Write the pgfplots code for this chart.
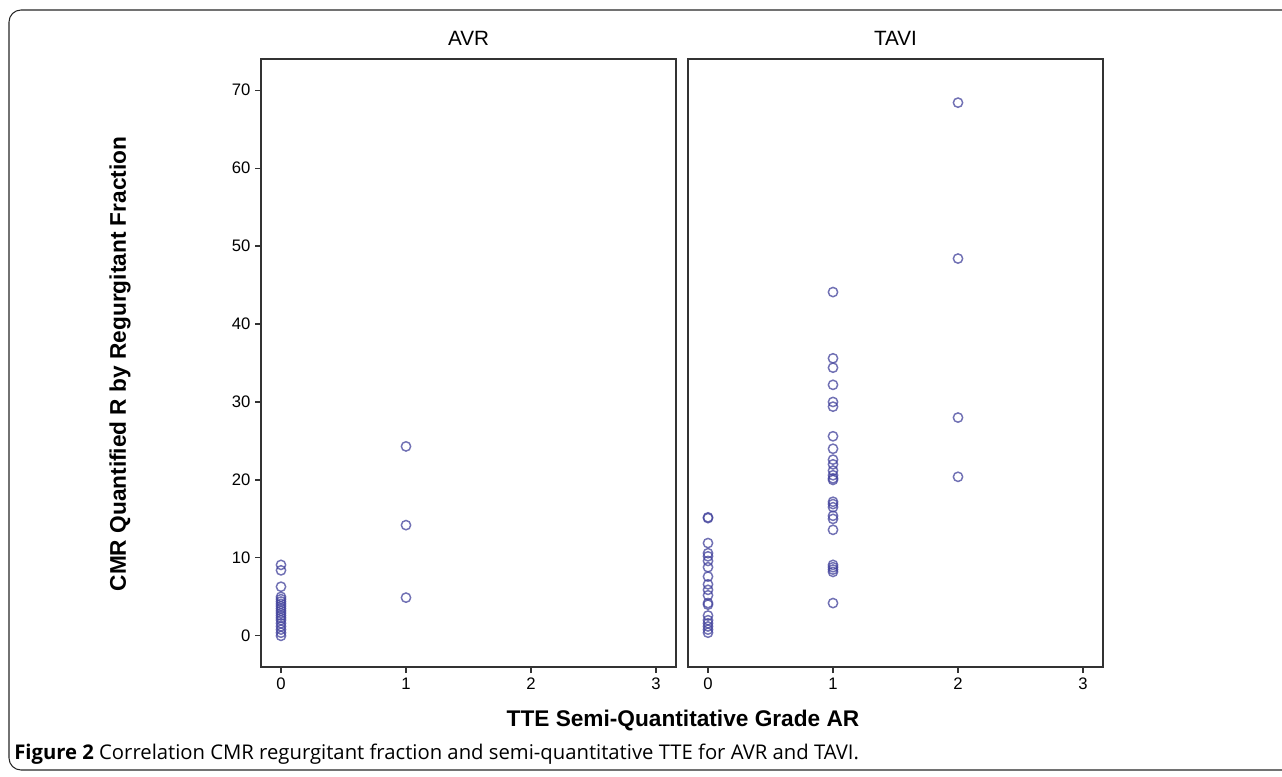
\documentclass[border=0pt]{standalone}
\usepackage{pgfplots}
\pgfplotsset{compat=1.18}
\usepackage{fontspec}
\setmainfont{Liberation Sans}
\newfontfamily\capfont{Open Sans}
\definecolor{spssblue}{RGB}{65,65,155}

% one pixel of the 1282x776 picture is 0.75pt
\pgfplotsset{
  panel/.style={
    scale only axis,
    width=311.25pt, height=456pt,
    anchor=south west,
    xmin=-0.16, xmax=3.16,
    ymin=-4, ymax=74,
    xtick={0,1,2,3},
    ytick={0,10,...,70},
    tick align=outside,
    major tick length=4.5pt,
    tick style={line width=0.9pt, black!80},
    axis line style={line width=0.9pt, black!80},
    xtick pos=bottom, ytick pos=left,
    ticklabel style={font=\fontsize{12.5}{14}\selectfont},
    /pgf/number format/assume math mode=true,
    title style={font=\fontsize{15.5}{17}\selectfont, at={(0.5,1)}, anchor=center, yshift=9.75pt},
    clip=false,
  },
  pts/.style={only marks, mark=o, mark size=3.5pt,
    mark options={draw=spssblue, line width=1.1pt, draw opacity=0.75}},
}

\pgfplotstableread{
x y
0 9.1
0 8.4
0 6.3
0 5.0
0 4.7
0 4.4
0 4.1
0 3.8
0 3.5
0 3.2
0 2.9
0 2.6
0 2.3
0 2.0
0 1.6
0 1.2
0 0.8
0 0.4
0 0.0
1 24.3
1 14.2
1 4.9
}\avr

\pgfplotstableread{
x y
0 15.2
0 15.1
0 11.9
0 10.6
0 10.2
0 9.6
0 8.8
0 7.6
0 6.6
0 5.9
0 5.2
0 4.2
0 4.0
0 2.6
0 2.0
0 1.6
0 1.2
0 0.8
0 0.4
1 44.1
1 35.6
1 34.4
1 32.2
1 30.0
1 29.4
1 25.6
1 24.0
1 22.6
1 22.0
1 21.2
1 20.6
1 20.2
1 20.0
1 17.2
1 16.9
1 16.5
1 15.4
1 15.0
1 13.6
1 9.1
1 8.8
1 8.5
1 8.2
1 4.2
2 68.4
2 48.4
2 28.0
2 20.4
}\tavi

\begin{document}
\begin{tikzpicture}
\path[use as bounding box] (0,0) rectangle (961.5pt,582pt);
\begin{scope}
\clip (0,0) rectangle (961.5pt,582pt);
\draw[line width=0.8pt, black!85, rounded corners=9pt] (6.75pt,4.5pt) rectangle (1000pt,574.5pt);
\end{scope}

\begin{axis}[panel, at={(195.75pt,81.75pt)}, title={AVR}]
  \addplot[pts] table {\avr};
\end{axis}

\begin{axis}[panel, at={(516pt,81.75pt)}, title={TAVI}, yticklabels={}, ytick style={draw=none}]
  \addplot[pts] table {\tavi};
\end{axis}

\begin{scope}[x=0.75pt, y=0.75pt]
  \node[rotate=90, font=\bfseries\fontsize{17}{19}\selectfont] at (120, 776-364) {CMR Quantified R by Regurgitant Fraction};
  \node[font=\bfseries\fontsize{17}{19}\selectfont] at (683, 776-721) {TTE Semi-Quantitative Grade AR};
  \node[anchor=base west, font=\capfont\fontsize{15.2}{17}\selectfont, inner sep=0pt] at (14, 776-759) {\textbf{Figure 2} Correlation CMR regurgitant fraction and semi-quantitative TTE for AVR and TAVI.};
\end{scope}
\end{tikzpicture}
\end{document}
